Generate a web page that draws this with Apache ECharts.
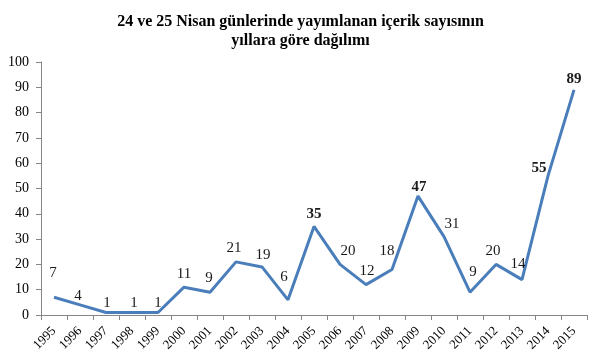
<!DOCTYPE html>
<html><head><meta charset="utf-8">
<script src="https://cdn.jsdelivr.net/npm/echarts@6/dist/echarts.min.js"></script>
<style>html,body{margin:0;padding:0;background:#fff}#c{width:601px;height:361px}</style>
</head><body><div id="c"></div>
<script>
const years = ['1995','1996','1997','1998','1999','2000','2001','2002','2003','2004','2005','2006','2007','2008','2009','2010','2011','2012','2013','2014','2015'];
const counts = [7,4,1,1,1,11,9,21,19,6,35,20,12,18,47,31,9,20,14,55,89];
const boldIdx = [10,14,19,20];
const yTicks = [0,10,20,30,40,50,60,70,80,90,100];
// label offsets (style only): [dx, dy] relative to point
const labelOffsets = [[-1,-24],[-2,-9],[1,-9],[2,-9],[0,-9],[0,-13],[-1,-14],[-2,-14],[1,-12],[-4,-23],[0,-12],[8,-13],[1,-14],[-5,-18],[1,-9],[8,-13],[3,-20],[-3,-13],[-4,-16],[-9,-8],[0,-11]];
const FONT = 'Liberation Serif';
const chart = echarts.init(document.getElementById('c'), null, {renderer:'canvas'});
chart.setOption({
  animation:false,
  title:{text:'24 ve 25 Nisan günlerinde yayımlanan içerik sayısının\nyıllara göre dağılımı',left:'center',top:7,
    textStyle:{fontFamily:FONT,fontWeight:'bold',fontSize:16,color:'#000',lineHeight:19}},
  grid:{left:41,right:14,top:62,bottom:46,containLabel:false},
  xAxis:{type:'category',data:years,boundaryGap:true,
    axisLine:{lineStyle:{color:'#868686',width:1}},
    axisTick:{show:true,interval:0,length:5,lineStyle:{color:'#868686'}},
    axisLabel:{interval:0,rotate:45,fontFamily:FONT,fontSize:13,color:'#000',margin:14}},
  yAxis:{type:'value',min:0,max:100,interval:10,
    axisLine:{show:true,lineStyle:{color:'#868686',width:1}},
    axisTick:{show:true,length:5,lineStyle:{color:'#868686'}},
    splitLine:{show:false},
    axisLabel:{fontFamily:FONT,fontSize:14,color:'#000',margin:12,
      formatter:v=>yTicks.includes(v)?String(v):''}},
  series:[{type:'line',data:counts.map((v,i)=>({value:v,
      label:{offset:labelOffsets[i],fontWeight:boldIdx.includes(i)?'bold':'normal'}})),
    symbol:'circle',symbolSize:0,showSymbol:true,
    lineStyle:{color:'#4a7ebb',width:3},itemStyle:{color:'#4a7ebb'},
    label:{show:true,position:'inside',fontFamily:FONT,fontSize:15,color:'#1a1a1a'}}]
});
</script></body></html>
